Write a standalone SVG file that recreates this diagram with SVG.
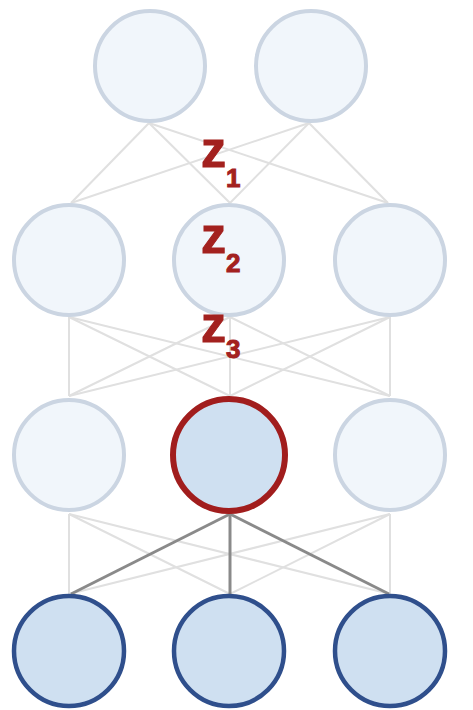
<svg xmlns="http://www.w3.org/2000/svg" width="473" height="710" viewBox="0 0 473 710">
  <style>
    .faint { fill: #f1f6fb; stroke: #cbd5e2; stroke-width: 4; }
    .focus { fill: #cfe0f1; stroke: #a11d1d; stroke-width: 6; }
    .input { fill: #cfe0f1; stroke: #2f4f8c; stroke-width: 4.5; }
    .edge { stroke: #e0e0e0; stroke-width: 2; fill: none; }
    .edge-hot { stroke: #8a8a8a; stroke-width: 3; fill: none; }
    .lbl { font-family: "Liberation Sans", Arial, sans-serif; font-weight: bold; fill: #a3211f; stroke: #a3211f; stroke-width: 1; }
    .z { font-size: 50px; }
    .sub { font-size: 26px; }
  </style>
  <rect width="473" height="710" fill="#ffffff"/>

  <g id="connectors">
    <!-- row 1 to row 2 -->
    <line class="edge" x1="149" y1="123" x2="71" y2="203"/>
    <line class="edge" x1="149" y1="123" x2="230" y2="203"/>
    <line class="edge" x1="149" y1="123" x2="388" y2="203"/>
    <line class="edge" x1="309" y1="123" x2="71" y2="203"/>
    <line class="edge" x1="309" y1="123" x2="230" y2="203"/>
    <line class="edge" x1="309" y1="123" x2="388" y2="203"/>
    <!-- row 2 to row 3 -->
    <line class="edge" x1="69" y1="317" x2="69" y2="396"/>
    <line class="edge" x1="69" y1="317" x2="230" y2="396"/>
    <line class="edge" x1="69" y1="317" x2="390" y2="396"/>
    <line class="edge" x1="230" y1="317" x2="69" y2="396"/>
    <line class="edge" x1="230" y1="317" x2="230" y2="396"/>
    <line class="edge" x1="230" y1="317" x2="390" y2="396"/>
    <line class="edge" x1="390" y1="317" x2="69" y2="396"/>
    <line class="edge" x1="390" y1="317" x2="230" y2="396"/>
    <line class="edge" x1="390" y1="317" x2="390" y2="396"/>
    <!-- row 3 to row 4 -->
    <line class="edge" x1="69" y1="514" x2="69" y2="594"/>
    <line class="edge" x1="69" y1="514" x2="230" y2="594"/>
    <line class="edge" x1="69" y1="514" x2="390" y2="594"/>
    <line class="edge" x1="390" y1="514" x2="69" y2="594"/>
    <line class="edge" x1="390" y1="514" x2="230" y2="594"/>
    <line class="edge" x1="390" y1="514" x2="390" y2="594"/>
    <line class="edge-hot" x1="230" y1="514" x2="71" y2="594"/>
    <line class="edge-hot" x1="230" y1="514" x2="230" y2="594"/>
    <line class="edge-hot" x1="230" y1="514" x2="389" y2="594"/>
  </g>

  <g id="n1a"><circle class="faint" cx="150" cy="66" r="55"/></g>
  <g id="n1b"><circle class="faint" cx="311" cy="66" r="55"/></g>

  <g id="n2a"><circle class="faint" cx="69" cy="260" r="55"/></g>
  <g id="n2b"><circle class="faint" cx="229" cy="260" r="55"/></g>
  <g id="n2c"><circle class="faint" cx="390" cy="260" r="55"/></g>

  <g id="n3a"><circle class="faint" cx="69" cy="455" r="55"/></g>
  <g id="n3b"><circle class="focus" cx="229" cy="455" r="56"/></g>
  <g id="n3c"><circle class="faint" cx="390" cy="455" r="55"/></g>

  <g id="n4a"><circle class="input" cx="69" cy="651" r="55"/></g>
  <g id="n4b"><circle class="input" cx="229" cy="651" r="55"/></g>
  <g id="n4c"><circle class="input" cx="390" cy="651" r="55"/></g>

  <g id="labels">
    <text class="lbl" x="201" y="167"><tspan class="z">z</tspan><tspan class="sub" dy="20">1</tspan></text>
    <text class="lbl" x="201" y="253"><tspan class="z">z</tspan><tspan class="sub" dy="19">2</tspan></text>
    <text class="lbl" x="201" y="342"><tspan class="z">z</tspan><tspan class="sub" dy="16">3</tspan></text>
  </g>
</svg>
